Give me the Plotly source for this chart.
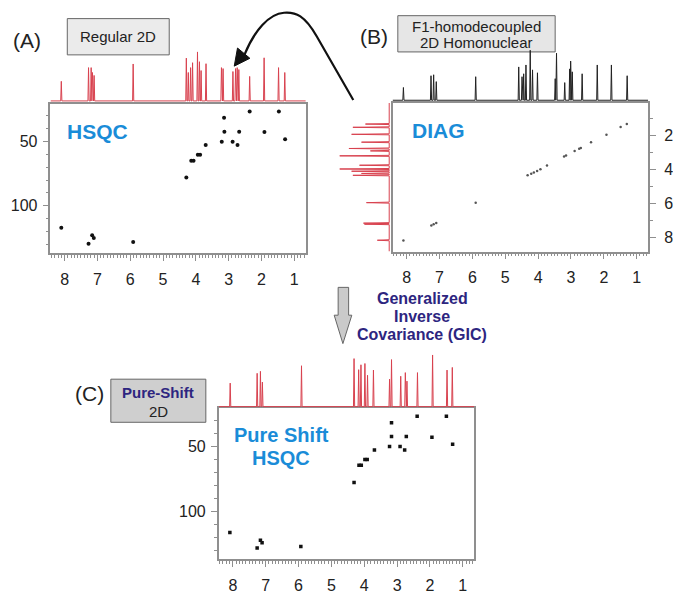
import plotly.graph_objects as go

W, H = 673, 594

# ---------------- data ----------------
# Panel A: regular HSQC cross peaks (1H ppm, 13C ppm)
hsqc_h = [8.10, 7.27, 7.16, 7.11, 5.91, 4.29, 4.14, 4.07, 3.94, 3.87, 3.70, 3.21, 3.14, 3.13,
          2.88, 2.73, 2.68, 2.36, 1.91, 1.47, 1.28]
hsqc_c = [117, 129.5, 122.9, 125, 128.2, 78, 65, 65, 60.4, 60.4, 52.8, 50.3, 31.5, 42.4,
          50.3, 52.8, 42.4, 26.7, 42.7, 26.7, 48.2]

# Panel C: pure-shift HSQC cross peaks
ps_h = [8.09, 7.26, 7.16, 7.11, 5.93, 4.31, 4.16, 4.09, 3.98, 3.91, 3.69, 3.23, 3.17, 3.17,
        2.91, 2.77, 2.72, 2.39, 1.94, 1.50, 1.31]
ps_c = [116, 128, 122, 124, 126.8, 77.7, 64.5, 64.5, 60, 60, 52.7, 50.2, 31.8, 42.5,
        50.2, 52.7, 42.5, 27, 43, 27, 48.3]

# Panel B: diagonal peaks (F2 ppm, F1 ppm)
diag_f2 = [8.10, 7.25, 7.18, 7.10, 5.90, 4.32, 4.21, 4.13, 4.03, 3.93, 3.73, 3.21, 3.15,
           2.89, 2.75, 2.70, 2.39, 1.92, 1.49, 1.30]
diag_f1 = [8.15, 7.28, 7.20, 7.13, 5.94, 4.34, 4.25, 4.17, 4.08, 3.98, 3.77, 3.24, 3.18,
           2.91, 2.78, 2.74, 2.40, 1.97, 1.51, 1.34]

# 1D proton spectrum above panel A (ppm, intensity)
specA_ppm = [8.10, 7.27, 7.19, 7.15, 7.10, 5.91, 4.29, 4.23, 4.16, 4.10, 3.95, 3.89, 3.84,
             3.69, 3.22, 3.17, 2.87, 2.79, 2.74, 2.69, 2.36, 1.92, 1.48, 1.29]
specA_int = [20, 34, 34, 29, 26, 37.7, 43.7, 29, 34, 39, 50, 40, 31,
             38, 34, 33, 30, 33, 34, 32, 25, 44, 34, 29]

# F1-homodecoupled projection above panel B
specB_ppm = [8.10, 7.26, 7.18, 7.10, 5.90, 4.59, 4.49, 4.44, 4.37, 4.24, 4.17, 4.02, 3.48,
             3.44, 3.19, 3.04, 3.01, 2.96, 2.66, 2.20, 1.77, 1.29]
specB_int = [13, 25, 26, 19, 24, 34, 24, 27, 36, 51, 31, 28, 22,
             48, 18, 32, 40, 29, 27, 36, 36, 25]

# F1 projection left of panel B
specB1_ppm = [1.34, 1.53, 1.94, 2.40, 2.77, 2.91, 3.20, 3.75, 3.97, 4.10, 4.23, 4.34,
              5.94, 7.14, 7.20, 8.14]
specB1_int = [24, 36.7, 38, 28, 40.7, 19, 50, 30, 50, 38, 28, 36.7,
              23, 26, 25, 12]

# Pure-shift 1D spectrum above panel C
specC_ppm = [8.08, 7.26, 7.16, 7.10, 5.91, 4.31, 4.17, 4.10, 3.98, 3.90, 3.72, 3.23, 3.17,
             2.89, 2.75, 2.70, 2.38, 1.92, 1.48, 1.32]
specC_int = [24, 34, 36, 25, 41.7, 49, 37.7, 42.7, 44, 32, 37.3, 28, 48,
             31, 34.7, 26, 34.7, 52.7, 37.3, 40]

x_tick_labels = ["8", "7", "6", "5", "4", "3", "2", "1"]

# ---------------- helpers ----------------
def fx(px):
    return px / W


def fy(py):
    return 1 - py / H


RED = "#d8424f"
BLUE = "#1a8cd8"
NAVY = "#2d2580"
AXC = "#8f8f8f"
FONT = "Liberation Sans, Arial, sans-serif"

XR = [8.43, 0.65]
YR_C = [136.5, 20.8]
YR_B = [8.8, 0.1]


def stick_path(ppm, inten, lo, hi, w=0.018):
    """horizontal spectrum path: baseline with narrow spikes"""
    pairs = sorted(zip(ppm, inten), key=lambda t: -t[0])
    xs, ys = [hi], [0]
    for p, h in pairs:
        xs += [p + w, p, p - w]
        ys += [0, h, 0]
    xs.append(lo)
    ys.append(0)
    return xs, ys


fig = go.Figure()

# main 2D panels
fig.add_trace(go.Scatter(x=hsqc_h, y=hsqc_c, mode="markers", xaxis="x", yaxis="y",
                         marker=dict(color="#111", size=4, symbol="circle"), showlegend=False))
fig.add_trace(go.Scatter(x=diag_f2, y=diag_f1, mode="markers", xaxis="x3", yaxis="y3",
                         marker=dict(color="#555", size=2.5, symbol="circle"), showlegend=False))
fig.add_trace(go.Scatter(x=ps_h, y=ps_c, mode="markers", xaxis="x6", yaxis="y6",
                         marker=dict(color="#111", size=3.5, symbol="square"), showlegend=False))

# 1D spectra
xa, ya = stick_path(specA_ppm, specA_int, 0.65, 8.43)
fig.add_trace(go.Scatter(x=xa, y=ya, mode="lines", xaxis="x2", yaxis="y2",
                         line=dict(color=RED, width=1), showlegend=False))
xb, yb = stick_path(specB_ppm, specB_int, 0.65, 8.43)
fig.add_trace(go.Scatter(x=xb, y=yb, mode="lines", xaxis="x4", yaxis="y4",
                         line=dict(color="#222", width=1), showlegend=False))
xc, yc = stick_path(specC_ppm, specC_int, 0.65, 8.43)
fig.add_trace(go.Scatter(x=xc, y=yc, mode="lines", xaxis="x7", yaxis="y7",
                         line=dict(color=RED, width=1), showlegend=False))
# vertical projection (F1) – swap roles
yv, xv = stick_path(specB1_ppm, specB1_int, 0.1, 8.8, w=0.03)
fig.add_trace(go.Scatter(x=xv, y=yv, mode="lines", xaxis="x5", yaxis="y5",
                         line=dict(color=RED, width=1), showlegend=False))


def main_x(dom, anchor):
    return dict(domain=dom, range=XR, anchor=anchor, showline=True, mirror=True, linecolor=AXC,
                linewidth=1.5, ticks="outside", tickcolor=AXC, ticklen=6, tickmode="array",
                tickvals=list(range(8, 0, -1)), ticktext=x_tick_labels, ticklabelstandoff=5,
                minor=dict(ticks="outside", dtick=0.1, tick0=0, ticklen=3, tickcolor=AXC),
                showgrid=False, zeroline=False,
                tickfont=dict(family=FONT, size=16, color="#222"))


def main_y(dom, anchor, rng, dtick, mdtick, side="left", standoff=2):
    return dict(domain=dom, range=rng, anchor=anchor, side=side, showline=True, mirror=True,
                linecolor=AXC, linewidth=1.5, ticks="outside", tickcolor=AXC, ticklen=6,
                dtick=dtick, tick0=0, ticklabelstandoff=standoff,
                minor=dict(ticks="outside", dtick=mdtick, tick0=0, ticklen=3, tickcolor=AXC),
                showgrid=False, zeroline=False,
                tickfont=dict(family=FONT, size=16, color="#222"))


def hidden(dom, rng, anchor):
    return dict(domain=dom, range=rng, anchor=anchor, visible=False, showgrid=False, zeroline=False)


domA_x = [fx(51), fx(309)]
domA_y = [fy(258), fy(106)]
domB_x = [fx(396.7), fx(655)]
domB_y = [fy(256.7), fy(105)]
domC_x = [fx(221), fx(479.3)]
domC_y = [fy(570.7), fy(416.7)]

fig.update_layout(
    width=W, height=H, margin=dict(l=0, r=0, t=0, b=0),
    paper_bgcolor="white", plot_bgcolor="rgba(0,0,0,0)",
    font=dict(family=FONT, color="#222"),
    xaxis=main_x(domA_x, "y"),
    yaxis=main_y(domA_y, "x", YR_C, 50, 10),
    xaxis2=hidden(domA_x, XR, "y2"),
    yaxis2=hidden([fy(104), fy(48)], [-1, 55], "x2"),
    xaxis3=main_x(domB_x, "y3"),
    yaxis3=main_y(domB_y, "x3", YR_B, 2, 1, side="right", standoff=5),
    xaxis4=hidden(domB_x, XR, "y4"),
    yaxis4=hidden([fy(103.3), fy(47.3)], [-1, 55], "x4"),
    xaxis5=hidden([fx(340), fx(394.3)], [53.3, -1], "y5"),
    yaxis5=hidden(domB_y, YR_B, "x5"),
    xaxis6=main_x(domC_x, "y6"),
    yaxis6=main_y(domC_y, "x6", YR_C, 50, 10),
    xaxis7=hidden(domC_x, XR, "y7"),
    yaxis7=hidden([fy(416), fy(360)], [-1, 55], "x7"),
)

shapes = []


def rect(x0, y0, x1, y1, fill):
    shapes.append(dict(type="rect", xref="paper", yref="paper", x0=fx(x0), x1=fx(x1),
                       y0=fy(y1), y1=fy(y0), fillcolor=fill, line=dict(color="#666", width=1),
                       layer="below"))


rect(68, 19, 171, 56, "#ebebeb")
rect(402, 16, 561, 53, "#e6e6e6")
rect(112, 387, 208, 431, "#cfcfcf")


def path(segments):
    """segments: list of (command, [points]); each point gets its own command letter"""
    out = []
    for cmd, pts in segments:
        if cmd == "Z":
            out.append("Z")
        elif cmd == "C":
            out.append("C" + " ".join(f"{fx(a):.5f},{fy(b):.5f}" for a, b in pts))
        else:
            for a, b in pts:
                out.append(f"{cmd}{fx(a):.5f},{fy(b):.5f}")
    return " ".join(out)


# curved black arrow from B to A
shapes.append(dict(type="path", xref="paper", yref="paper",
                   path=path([("M", [(357, 102)]),
                              ("L", [(320, 37)]),
                              ("C", [(308, 16), (299, 12), (287, 13)]),
                              ("C", [(272, 14), (257, 31), (247, 56)])]),
                   line=dict(color="#111", width=2.2)))
shapes.append(dict(type="path", xref="paper", yref="paper",
                   path=path([("M", [(236.7, 67.5)]), ("L", [(252.5, 59.5), (240.0, 49.0)]),
                              ("Z", [])]),
                   fillcolor="#111", line=dict(color="#111", width=1)))

# gray block arrow down
shapes.append(dict(type="path", xref="paper", yref="paper",
                   path=path([("M", [(341.7, 293.3)]),
                              ("L", [(352.3, 293.3), (352.3, 321.7), (355.5, 321.7),
                                     (346.5, 350.7), (337.7, 321.7), (341.7, 321.7)]),
                              ("Z", [])]),
                   fillcolor="#cacaca", line=dict(color="#666", width=1)))

fig.update_layout(shapes=shapes)

ann = []


def text(t, x, y, size, color="#222", bold=False):
    ann.append(dict(text=f"<b>{t}</b>" if bold else t, x=fx(x), y=fy(y), xref="paper",
                    yref="paper", showarrow=False, xanchor="center", yanchor="middle",
                    font=dict(family=FONT, size=size, color=color)))


text("(A)", 27, 41, 21)
text("Regular 2D", 119.5, 37.5, 15)
text("(B)", 377.5, 37.5, 21)
text("F1-homodecoupled", 481.5, 27, 15)
text("2D Homonuclear", 481.5, 43.5, 15)
text("HSQC", 99, 134, 21, BLUE, True)
text("DIAG", 443, 133, 21, BLUE, True)
text("Generalized", 426.7, 305, 16, NAVY, True)
text("Inverse", 426.7, 323, 16, NAVY, True)
text("Covariance (GIC)", 426.7, 341.5, 16, NAVY, True)
text("(C)", 90, 402, 21)
text("Pure-Shift", 160, 400.7, 15, NAVY, True)
text("2D", 160, 420, 15)
text("Pure Shift", 284, 444, 20, BLUE, True)
text("HSQC", 284, 467, 20, BLUE, True)

fig.update_layout(annotations=ann)

fig.write_html("out.html")
